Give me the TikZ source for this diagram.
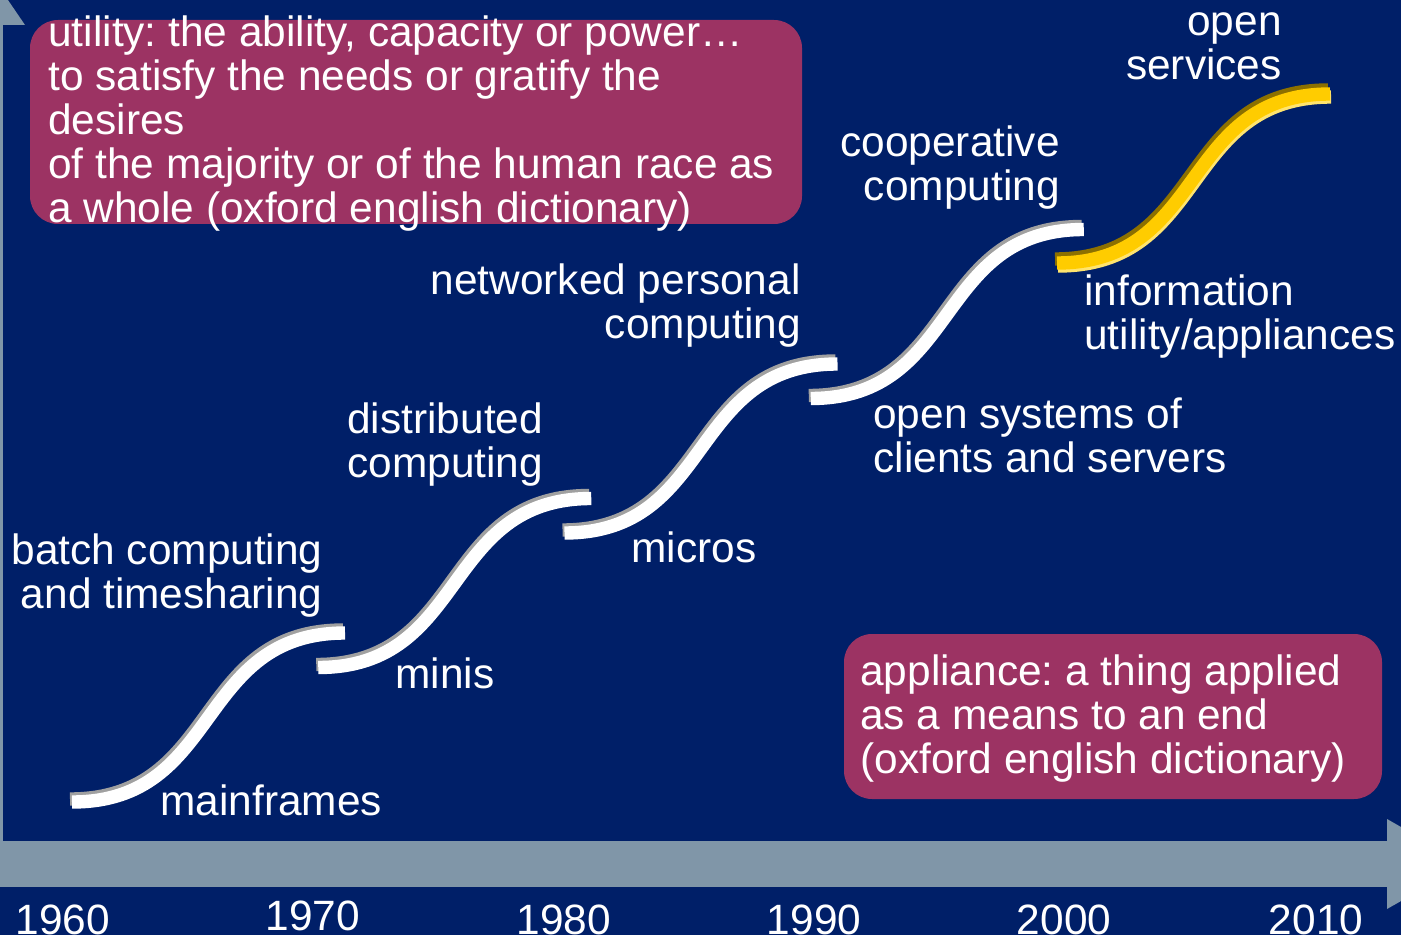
\documentclass[tikz,border=0pt]{standalone}
\usepackage{fontspec}
\setmainfont{Liberation Sans}
\usetikzlibrary{positioning}
\frenchspacing

\definecolor{slidebg}{RGB}{0,31,104}
\definecolor{quotebox}{RGB}{156,51,99}
\definecolor{timeaxis}{RGB}{128,150,168}
\definecolor{stepshade}{RGB}{160,160,160}
\definecolor{stepgold}{RGB}{255,204,0}
\definecolor{golddark}{RGB}{140,112,0}
\definecolor{goldlight}{RGB}{255,228,110}

\tikzset{
	lbl/.style={text=white, inner sep=0pt, font=\fontsize{21.2}{22}\selectfont},
	quote/.style={fill=quotebox, rounded corners=14pt},
	stepline/.style={line width=6.7pt}
}

\begin{document}
\begin{tikzpicture}[x=0.5pt,y=-0.5pt]
	\useasboundingbox (0,0) rectangle (1401,935);
	\clip (0,0) rectangle (1401,935);
	\fill[slidebg] (0,0) rectangle (1401,935);
	
	% axes
	\fill[timeaxis] (-43,841) rectangle (3,25);
	\fill[timeaxis] (-65,25) -- (25,25) -- (-20,-41) -- cycle;
	\fill[timeaxis] (0,841) rectangle (1387,887);
	\fill[timeaxis] (1387,819) -- (1466,864) -- (1387,909) -- cycle;
	
	% years
	\foreach \yr/\xx/\yy in {1960/63/934, 1970/313/930, 1980/564/934, 1990/814/934, 2000/1064/934, 2010/1316/934}
		\node[lbl, anchor=base] (y\yr) at (\xx,\yy) {\yr};
	
	% steps
	\foreach \i in {0,...,3}{
		\begin{scope}[shift={(72+246.25*\i,802-134.5*\i)}]
			\draw[stepshade, stepline] (-2,-3) .. controls (148,-3) and (121,-172) .. (271,-172);
			\draw[white, stepline] (0,0) .. controls (150,0) and (123,-169) .. (273,-169);
		\end{scope}
	}
	\begin{scope}[shift={(1057,263)}]
		\draw[goldlight, stepline] (1,3) .. controls (151,3) and (124,-166) .. (274,-166);
		\draw[golddark, stepline] (-2,-4) .. controls (148,-4) and (121,-173) .. (271,-173);
		\draw[stepgold, stepline] (0,0) .. controls (150,0) and (123,-169) .. (273,-169);
	\end{scope}
	
	% definitions (base = last line)
	\fill[quote] (30,20) rectangle (802,224);
	\node[lbl, anchor=base west, align=left] (utility) at (48,223) {utility: the ability, capacity or power…\\to satisfy the needs or gratify the\\desires\\of the majority or of the human race as\\a whole (oxford english dictionary)};
	\fill[quote] (844,634) rectangle (1382,799);
	\node[lbl, anchor=base west, align=left] (appliance) at (860,773) {appliance: a thing applied\\as a means to an end\\(oxford english dictionary)};
	
	% eras
	\node[lbl, anchor=base east, align=right] (batch) at (323,608) {batch computing\\and timesharing};
	\node[lbl, anchor=base west] (mainframes) at (160,815) {mainframes};
	\node[lbl, anchor=base west] (minis) at (395,688) {minis};
	\node[lbl, anchor=base west, align=left] (distributed) at (347,477) {distributed\\computing};
	\node[lbl, anchor=base west] (micros) at (631,562) {micros};
	\node[lbl, anchor=base east, align=right] (networked) at (801,339) {networked personal\\computing};
	\node[lbl, anchor=base west, align=left] (opensys) at (873,472) {open systems of\\clients and servers};
	\node[lbl, anchor=base east, align=right] (cooperative) at (1060,201) {cooperative\\computing};
	\node[lbl, anchor=base west, align=left] (information) at (1084,350) {information\\utility/appliances};
	\node[lbl, anchor=base east, align=right] (services) at (1282,80) {open\\services};
\end{tikzpicture}
\end{document}
